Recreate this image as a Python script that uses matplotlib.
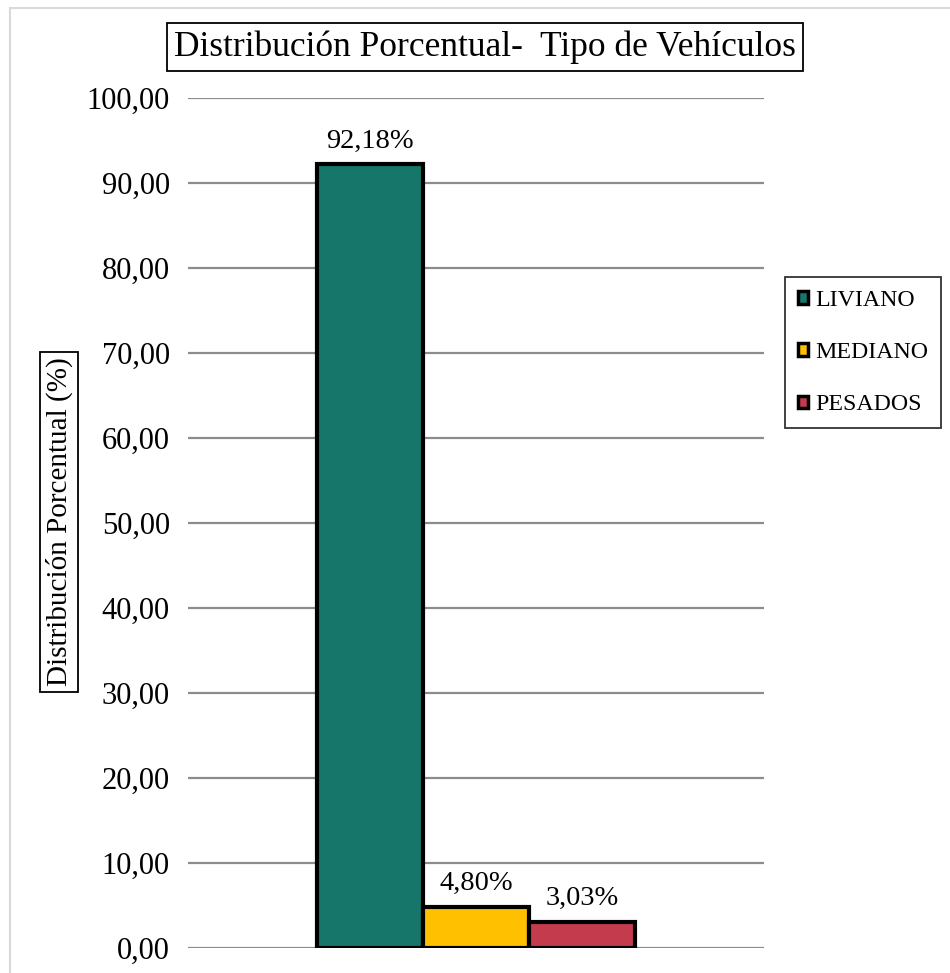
import matplotlib
matplotlib.use("Agg")
import matplotlib.pyplot as plt
from matplotlib.patches import Rectangle, Patch

categories = ["LIVIANO", "MEDIANO", "PESADOS"]
values = [92.18, 4.80, 3.03]
labels = ["92,18%", "4,80%", "3,03%"]
colors = ["#17766A", "#FFC000", "#C43B4D"]
yticks = [0, 10, 20, 30, 40, 50, 60, 70, 80, 90, 100]
ytick_labels = ["0,00", "10,00", "20,00", "30,00", "40,00", "50,00",
                "60,00", "70,00", "80,00", "90,00", "100,00"]

plt.rcParams['font.family'] = ['Liberation Serif', 'DejaVu Serif']

fig = plt.figure(figsize=(9.5, 9.73), dpi=100)
ax = fig.add_axes([188/950, 1-948/973, (764-188)/950, (948-98)/973])

positions = [-1, 0, 1]
for p, v, c, lab in zip(positions, values, colors, labels):
    ax.bar(p, v, width=1.0, color=c, edgecolor="black", linewidth=3, zorder=3)
    ax.text(p, v + 1.3, lab, ha="center", va="bottom", fontsize=20.5, zorder=4)

ax.set_xlim(-2.72, 2.72)
ax.set_ylim(0, 100)
ax.set_yticks(yticks)
ax.set_yticklabels(ytick_labels, fontsize=22)
ax.set_xticks([])
ax.tick_params(axis="y", length=0, pad=13)
for s in ax.spines.values():
    s.set_visible(False)
ax.yaxis.grid(True, color="#8c8c8c", linewidth=1.6, zorder=0)
ax.set_axisbelow(True)

# title
fig.text(485/950, 1-47/973, "Distribución Porcentual-  Tipo de Vehículos",
         ha="center", va="center", fontsize=25.5,
         bbox=dict(boxstyle="square,pad=0.2", fc="white", ec="black", lw=1.3))

# y label
fig.text(59/950, 1-522/973, "Distribución Porcentual (%)",
         ha="center", va="center", rotation=90, fontsize=21,
         bbox=dict(boxstyle="square,pad=0.2", fc="white", ec="black", lw=1.3))

# legend
handles = [Patch(facecolor=c, edgecolor="black", linewidth=2.5) for c in colors]
leg = fig.legend(handles, categories, loc="upper left",
                 bbox_to_anchor=(785/950, 1-277/973),
                 bbox_transform=fig.transFigure, fontsize=17.2,
                 frameon=True, fancybox=False, labelspacing=1.3,
                 handlelength=0.42, handleheight=0.42, handletextpad=0.3,
                 borderpad=0.55, borderaxespad=0)
leg.get_frame().set_edgecolor("black")
leg.get_frame().set_linewidth(1.3)

# chart area border
fig.patches.append(Rectangle((10/950, -0.02), 1.0, 1-8/973+0.02,
                             transform=fig.transFigure, fill=False,
                             edgecolor="#d9d9d9", linewidth=1.5))

fig.savefig("out.png", dpi=100)
